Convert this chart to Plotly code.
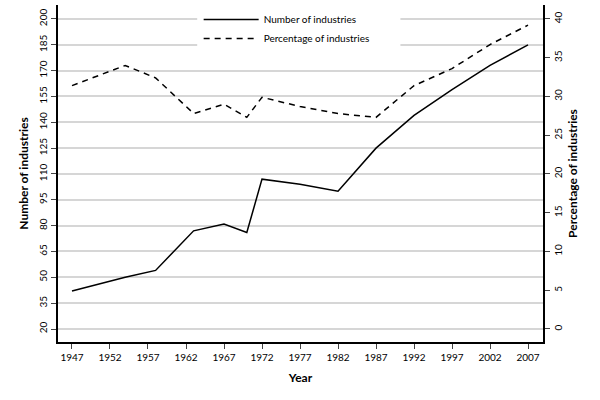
import plotly.graph_objects as go

years = [1947, 1954, 1958, 1963, 1967, 1970, 1972, 1977, 1982, 1987, 1992, 1997, 2002, 2007]
number_ind = [42, 50, 54, 77, 81, 76, 107, 104, 100, 125, 144, 159, 173, 185]
pct_ind = [31.4, 34.0, 32.4, 27.8, 29.0, 27.3, 29.9, 28.7, 27.8, 27.3, 31.4, 33.6, 36.7, 39.2]
x_ticks = list(range(1947, 2008, 5))
left_ticks = list(range(20, 201, 15))
right_ticks = list(range(0, 41, 5))

FONT = "Lato"

fig = go.Figure()
fig.add_trace(go.Scatter(x=years, y=number_ind, mode="lines", name="Number of industries",
                         line=dict(color="black", width=1.5), yaxis="y"))
fig.add_trace(go.Scatter(x=years, y=pct_ind, mode="lines", name="Percentage of industries",
                         line=dict(color="black", width=1.5, dash="6px,5px"), yaxis="y2"))

# white box behind legend (covers gridlines)
fig.add_shape(type="rect", xref="paper", yref="paper", x0=0.287, x1=0.706, y0=0.85, y1=1.0,
              fillcolor="white", line=dict(width=0), layer="above")

fig.update_layout(
    width=600, height=400,
    margin=dict(l=58, r=57, t=5, b=58),
    paper_bgcolor="white", plot_bgcolor="white",
    font=dict(family=FONT, color="black", size=10),
    showlegend=True,
    legend=dict(x=0.29, y=1.0, xanchor="left", yanchor="top", bgcolor="rgba(0,0,0,0)",
                font=dict(size=10, family=FONT), tracegroupgap=0, itemwidth=55),
    xaxis=dict(range=[1945.16, 2008.97], tickvals=x_ticks, ticks="outside", ticklen=5,
               tickwidth=1.2, showline=True, linecolor="black", linewidth=1.5, showgrid=False,
               zeroline=False, tickfont=dict(size=10),
               title=dict(text="<b>Year</b>", font=dict(size=12), standoff=12)),
    yaxis=dict(range=[12.45, 208.1], tickvals=left_ticks, ticks="outside", ticklen=5,
               tickwidth=1.2, showline=True, linecolor="black", linewidth=1.5,
               showgrid=True, gridcolor="#d6d6d6", gridwidth=1.5, zeroline=False,
               tickangle=-90, tickfont=dict(size=10),
               title=dict(text="<b>Number of industries</b>", font=dict(size=12), standoff=6)),
    yaxis2=dict(range=[-1.68, 41.8], tickvals=right_ticks, overlaying="y", side="right",
                ticks="outside", ticklen=5, tickwidth=1.2, showline=True, linecolor="black",
                linewidth=1.5, showgrid=False, zeroline=False, tickangle=-90,
                tickfont=dict(size=10),
                title=dict(text="<b>Percentage of industries</b>", font=dict(size=12), standoff=6)),
)

fig.write_html("out.html")
